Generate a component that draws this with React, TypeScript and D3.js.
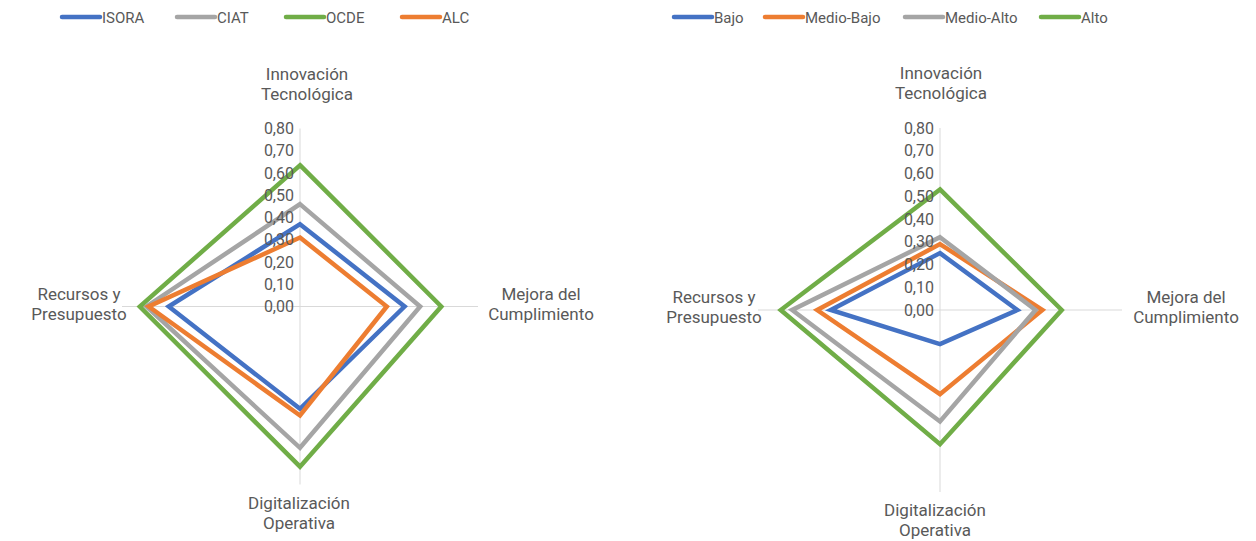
import * as d3 from "d3";

const AXES = [
  ["Innovación", "Tecnológica"],
  ["Mejora del", "Cumplimiento"],
  ["Digitalización", "Operativa"],
  ["Recursos y", "Presupuesto"],
];
const TICKS = [0, 0.1, 0.2, 0.3, 0.4, 0.5, 0.6, 0.7, 0.8];

// left chart: order of values = top, right, bottom, left
const LEFT_NAMES = ["ISORA", "CIAT", "OCDE", "ALC"];
const ISORA = [0.37, 0.47, 0.46, 0.59];
const CIAT = [0.46, 0.54, 0.635, 0.69];
const OCDE = [0.635, 0.635, 0.72, 0.72];
const ALC = [0.31, 0.39, 0.49, 0.68];

const RIGHT_NAMES = ["Bajo", "Medio-Bajo", "Medio-Alto", "Alto"];
const BAJO = [0.25, 0.34, 0.15, 0.48];
const MEDIO_BAJO = [0.29, 0.45, 0.37, 0.54];
const MEDIO_ALTO = [0.32, 0.42, 0.49, 0.65];
const ALTO = [0.53, 0.535, 0.59, 0.7];

const BLUE = "#4472C4";
const ORANGE = "#ED7D31";
const GRAY = "#A5A5A5";
const GREEN = "#70AD47";
const TEXT = "#595959";
const FONT = "Roboto, 'Liberation Sans', sans-serif";

type Series = { name: string; values: number[]; color: string };

type RadarProps = {
  cx: number;
  cy: number;
  radius: number;
  series: Series[];
  labelPos: { x: number; y: number }[];
  legendX: number[];
};

const Radar = ({ cx, cy, radius, series, labelPos, legendX }: RadarProps) => {
  const r = d3.scaleLinear().domain([0, 0.8]).range([0, radius]);
  const angle = (i: number) => (i * Math.PI * 2) / AXES.length;
  const line = d3
    .lineRadial<number>()
    .angle((_, i) => angle(i))
    .radius((d) => r(d))
    .curve(d3.curveLinearClosed);

  return (
    <g>
      {/* legend */}
      {series.map((s, i) => (
        <g key={s.name} transform={`translate(${legendX[i]},17)`}>
          <line x1={0} x2={38} y1={0} y2={0} stroke={s.color} strokeWidth={4.5} strokeLinecap="round" />
          <text x={40} y={6} fontSize={15} fill={TEXT} fontFamily={FONT}>
            {s.name}
          </text>
        </g>
      ))}
      <g transform={`translate(${cx},${cy})`}>
        {/* spokes */}
        {AXES.map((_, i) => (
          <line
            key={i}
            x1={0}
            y1={0}
            x2={Math.sin(angle(i)) * r(0.8)}
            y2={-Math.cos(angle(i)) * r(0.8)}
            stroke="#D9D9D9"
            strokeWidth={1}
          />
        ))}
        {series.map((s) => (
          <path
            key={s.name}
            d={line(s.values) ?? ""}
            fill="none"
            stroke={s.color}
            strokeWidth={4.5}
            strokeLinejoin="miter"
          />
        ))}
        {TICKS.map((t) => (
          <text
            key={t}
            x={-6}
            y={-r(t)}
            dy="0.35em"
            textAnchor="end"
            fontSize={16}
            fill={TEXT}
            fontFamily={FONT}
          >
            {d3.format(".2f")(t).replace(".", ",")}
          </text>
        ))}
      </g>
      {AXES.map((lbl, i) => (
        <text
          key={i}
          x={labelPos[i].x}
          y={labelPos[i].y}
          textAnchor="middle"
          fontSize={17}
          fill={TEXT}
          fontFamily={FONT}
        >
          {lbl.map((l, j) => (
            <tspan key={j} x={labelPos[i].x} dy={j === 0 ? 0 : 19.5}>
              {l}
            </tspan>
          ))}
        </text>
      ))}
    </g>
  );
};

export default function App() {
  const leftSeries: Series[] = [
    { name: LEFT_NAMES[0], values: ISORA, color: BLUE },
    { name: LEFT_NAMES[1], values: CIAT, color: GRAY },
    { name: LEFT_NAMES[2], values: OCDE, color: GREEN },
    { name: LEFT_NAMES[3], values: ALC, color: ORANGE },
  ];
  const rightSeries: Series[] = [
    { name: RIGHT_NAMES[0], values: BAJO, color: BLUE },
    { name: RIGHT_NAMES[1], values: MEDIO_BAJO, color: ORANGE },
    { name: RIGHT_NAMES[2], values: MEDIO_ALTO, color: GRAY },
    { name: RIGHT_NAMES[3], values: ALTO, color: GREEN },
  ];

  return (
    <div style={{ position: "fixed", left: 0, top: 0 }}>
      <svg width={1256} height={541} style={{ display: "block", background: "#fff" }}>
        <Radar
          cx={300}
          cy={306.5}
          radius={178}
          series={leftSeries}
          labelPos={[
            { x: 307, y: 80 },
            { x: 541, y: 300 },
            { x: 299, y: 509 },
            { x: 79, y: 300 },
          ]}
          legendX={[62, 177, 286, 402]}
        />
        <Radar
          cx={940}
          cy={310}
          radius={182}
          series={rightSeries}
          labelPos={[
            { x: 941, y: 79 },
            { x: 1186, y: 303 },
            { x: 935, y: 516 },
            { x: 714, y: 303 },
          ]}
          legendX={[674, 765, 905, 1041]}
        />
      </svg>
    </div>
  );
}
